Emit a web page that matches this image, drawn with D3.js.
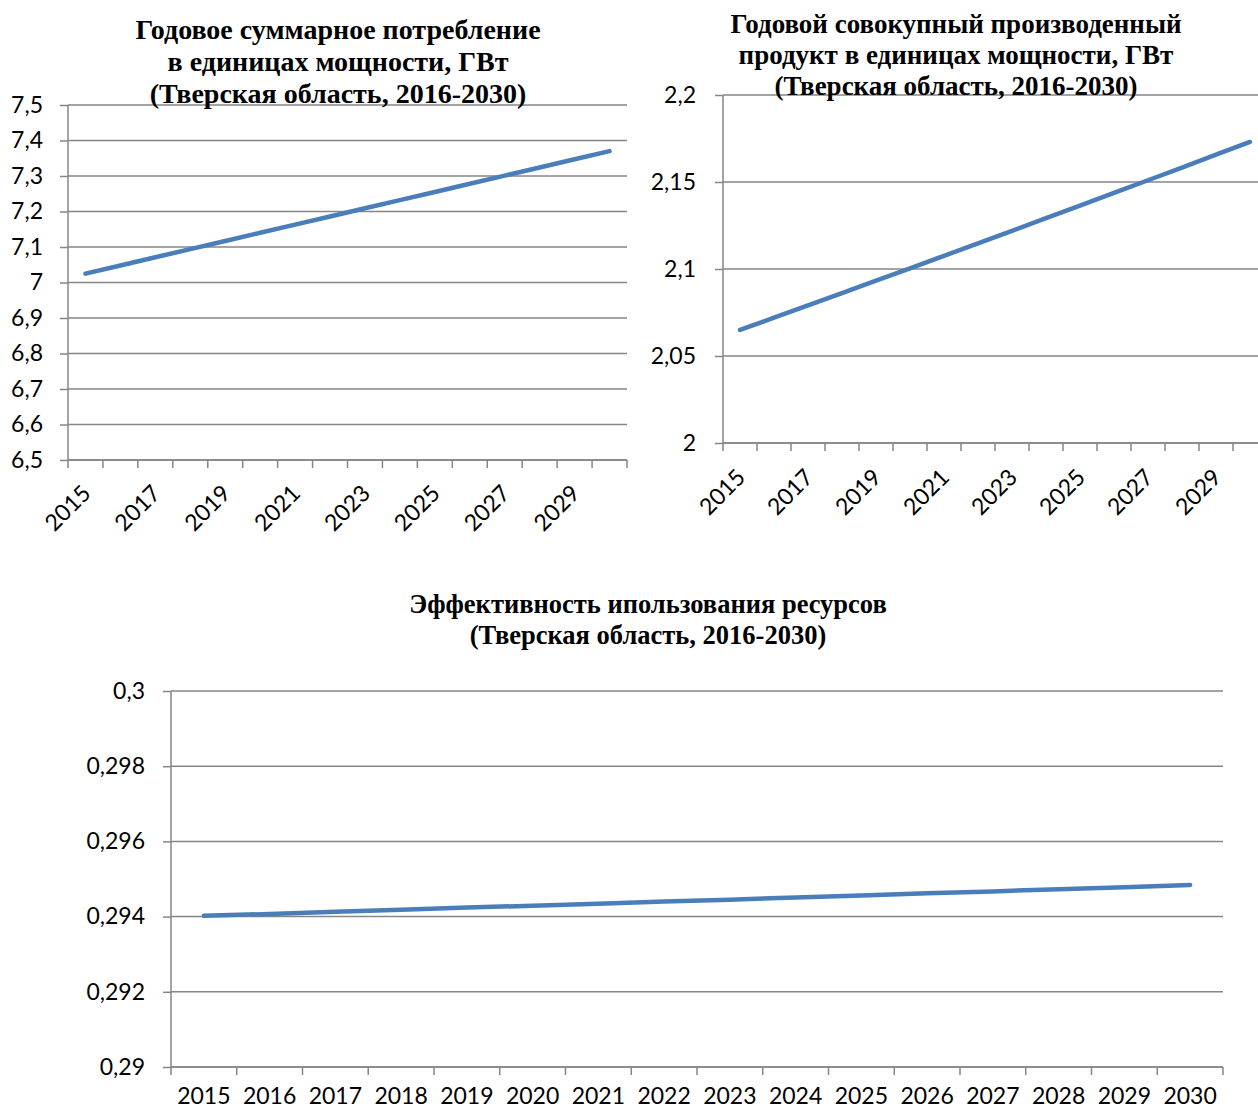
<!DOCTYPE html>
<html>
<head>
<meta charset="utf-8">
<script src="https://cdn.jsdelivr.net/npm/d3@7"></script>
<style>
  html, body { margin: 0; padding: 0; background: #fff; }
  svg { display: block; }
  .title { font-family: "Liberation Serif", "Times New Roman", serif; font-weight: bold; fill: #000; }
  .tick text, .xlab text { font-family: Lato, "Open Sans", sans-serif; font-size: 23px; fill: #000; }
</style>
</head>
<body>
<svg id="chart" width="1258" height="1111"></svg>
<script>
// Years on the category axis
const years = ["2015","2016","2017","2018","2019","2020","2021","2022","2023","2024","2025","2026","2027","2028","2029","2030"];

// Annual total consumption, GW
const consumption = [7.025, 7.048, 7.071, 7.094, 7.117, 7.140, 7.163, 7.186, 7.209, 7.232, 7.255, 7.278, 7.301, 7.324, 7.347, 7.370];
const consumptionTicks = [6.5, 6.6, 6.7, 6.8, 6.9, 7.0, 7.1, 7.2, 7.3, 7.4, 7.5];

// Annual gross product, GW
const product = [2.0650, 2.0720, 2.0791, 2.0862, 2.0933, 2.1004, 2.1076, 2.1147, 2.1219, 2.1292, 2.1364, 2.1437, 2.1510, 2.1583, 2.1657, 2.1730];
const productTicks = [2.0, 2.05, 2.1, 2.15, 2.2];

// Resource efficiency
const efficiency = [0.29402, 0.29407, 0.29413, 0.29418, 0.29424, 0.29429, 0.29434, 0.29440, 0.29445, 0.29451, 0.29456, 0.29462, 0.29467, 0.29473, 0.29478, 0.29484];
const efficiencyTicks = [0.29, 0.292, 0.294, 0.296, 0.298, 0.3];

const titles1 = ["Годовое суммарное потребление", "в  единицах мощности, ГВт", "(Тверская область, 2016-2030)"];
const titles2 = ["Годовой совокупный производенный", "продукт в единицах мощности, ГВт", "(Тверская область, 2016-2030)"];
const titles3 = ["Эффективность ипользования ресурсов", "(Тверская область, 2016-2030)"];

const GRID = "#868686";
const LINE = "#4a7ebb";
const svg = d3.select("#chart");
const fmt = d => String(d).replace(".", ",");

function drawChart(opt) {
  const g = svg.append("g");
  const x = d3.scaleBand().domain(years).range([opt.x0, opt.x1]);
  const y = d3.scaleLinear().domain(opt.domain).range([opt.y1, opt.y0]);
  const cx = d => x(d) + x.bandwidth() / 2;

  // horizontal gridlines
  g.append("g").selectAll("line").data(opt.ticks).join("line")
    .attr("x1", opt.x0).attr("x2", opt.x1)
    .attr("y1", d => y(d)).attr("y2", d => y(d))
    .attr("stroke", GRID).attr("stroke-width", 1.5);

  // y axis
  const ya = g.append("g").attr("transform", `translate(${opt.x0},0)`)
    .call(d3.axisLeft(y).tickValues(opt.ticks).tickFormat(fmt).tickSize(8).tickPadding(opt.yPad));
  ya.selectAll("path, line").attr("stroke", GRID).attr("stroke-width", 1.5);
  ya.select(".domain").attr("d", `M0,${opt.y1}V${opt.y0}`);

  // x axis: tick marks at category boundaries
  const xa = g.append("g").attr("transform", `translate(0,${opt.y1})`);
  xa.append("line").attr("x1", opt.x0).attr("x2", opt.x1).attr("stroke", GRID).attr("stroke-width", 1.5);
  const bounds = years.map(d => x(d)).concat([x(years[years.length - 1]) + x.bandwidth()]);
  xa.selectAll("line.b").data(bounds).join("line").attr("class", "b")
    .attr("x1", d => d).attr("x2", d => d).attr("y1", 0).attr("y2", 8)
    .attr("stroke", GRID).attr("stroke-width", 1.5);

  // category labels
  const labels = opt.everyOther ? years.filter((d, i) => i % 2 === 0) : years;
  const lab = g.append("g").attr("class", "xlab").selectAll("text").data(labels).join("text")
    .text(d => d);
  if (opt.rotate) {
    lab.attr("text-anchor", "end").attr("dy", "0.35em")
      .attr("transform", d => `translate(${cx(d) + 1},${opt.labelY}) rotate(-45)`);
  } else {
    lab.attr("text-anchor", "middle").attr("x", cx).attr("y", opt.labelY);
  }

  // data line
  const line = d3.line().x((d, i) => cx(years[i])).y(d => y(d));
  g.append("path").datum(opt.values).attr("d", line)
    .attr("fill", "none").attr("stroke", LINE).attr("stroke-width", 4.5)
    .attr("stroke-linecap", "round").attr("stroke-linejoin", "round");

  // title
  g.append("g").selectAll("text").data(opt.titles).join("text")
    .attr("class", "title").attr("text-anchor", "middle")
    .style("font-size", opt.titleSize + "px")
    .attr("x", opt.titleX).attr("y", (d, i) => opt.titleY + i * opt.titleStep)
    .text(d => d);
}

drawChart({
  values: consumption, ticks: consumptionTicks, domain: [6.5, 7.5],
  x0: 68, x1: 627, y0: 105, y1: 460, yPad: 17,
  rotate: true, everyOther: true, labelY: 489,
  titles: titles1, titleSize: 28, titleX: 338, titleY: 39, titleStep: 32
});

drawChart({
  values: product, ticks: productTicks, domain: [2.0, 2.2],
  x0: 723, x1: 1267, y0: 95, y1: 443, yPad: 19,
  rotate: true, everyOther: true, labelY: 473,
  titles: titles2, titleSize: 27, titleX: 956, titleY: 33, titleStep: 31
});

drawChart({
  values: efficiency, ticks: efficiencyTicks, domain: [0.29, 0.3],
  x0: 171, x1: 1223, y0: 691, y1: 1067, yPad: 18,
  rotate: false, everyOther: false, labelY: 1104,
  titles: titles3, titleSize: 26.5, titleX: 648, titleY: 613, titleStep: 31
});
</script>
</body>
</html>
